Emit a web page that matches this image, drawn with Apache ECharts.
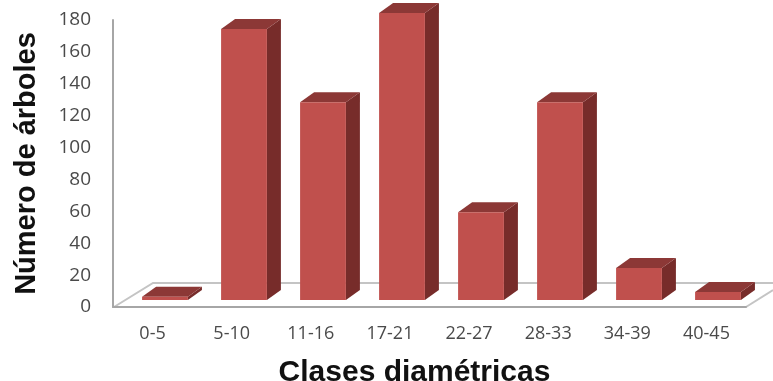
<!DOCTYPE html>
<html>
<head>
<meta charset="utf-8">
<style>
  html, body { margin: 0; padding: 0; background: #fff; }
  #chart { width: 773px; height: 381px; }
</style>
<script src="https://cdn.jsdelivr.net/npm/echarts@6/dist/echarts.min.js"></script>
</head>
<body>
<div id="chart"></div>
<script>
const clases = ['0-5', '5-10', '11-16', '17-21', '22-27', '28-33', '34-39', '40-45'];
const arboles = [2, 170, 124, 180, 55, 124, 20, 5];
const yTicks = [0, 20, 40, 60, 80, 100, 120, 140, 160, 180];

const depthX = 14;
const depthY = 10;

// one bar: front face, top and right side
const renderBar = (params, api) => {
  const top = api.coord([api.value(0), api.value(1)]);
  const base = api.coord([api.value(0), 0]);
  const w = api.size([1, 0])[0] * 0.58;
  const x0 = top[0] - w / 2;
  const x1 = top[0] + w / 2;
  return {
    type: 'group',
    children: [
      {
        type: 'polygon',
        shape: { points: [[x1, top[1]], [x1 + depthX, top[1] - depthY], [x1 + depthX, base[1] - depthY], [x1, base[1]]] },
        style: { fill: '#772C2A' },
      },
      {
        type: 'polygon',
        shape: { points: [[x0, top[1]], [x0 + depthX, top[1] - depthY], [x1 + depthX, top[1] - depthY], [x1, top[1]]] },
        style: { fill: '#8C3836' },
      },
      {
        type: 'rect',
        shape: { x: x0, y: top[1], width: w, height: base[1] - top[1] },
        style: { fill: '#C0504D' },
      },
    ],
  };
};

const chart = echarts.init(document.getElementById('chart'));
chart.setOption({
  animation: false,
  backgroundColor: '#fff',
  // floor of the 3D plot, behind the bars
  graphic: [
    {
      type: 'polyline',
      z: 0,
      shape: { points: [[114, 307], [153, 283], [773, 283]] },
      style: { fill: null, stroke: '#C4C4C4', lineWidth: 2 },
    },
    {
      type: 'line',
      z: 0,
      shape: { x1: 746, y1: 307, x2: 773, y2: 290 },
      style: { stroke: '#C4C4C4', lineWidth: 2 },
    },
  ],
  grid: [
    { left: 113, top: 20, width: 633, height: 287, outerBoundsMode: 'none' }, // axes
    { left: 125.5, top: 13, width: 632, height: 287, outerBoundsMode: 'none' }, // bars sit in front of the axes
  ],
  xAxis: [
    {
      type: 'category',
      gridIndex: 0,
      data: clases,
      axisTick: { show: false },
      axisLine: { lineStyle: { color: '#A6A6A6', width: 2 } },
      axisLabel: { color: '#4a4a4a', fontFamily: 'Open Sans', fontSize: 18, margin: 18 },
      name: 'Clases diamétricas',
      nameLocation: 'middle',
      nameGap: 51,
      nameTextStyle: { color: '#111', fontFamily: 'Liberation Sans', fontWeight: 'bold', fontSize: 30, padding: [0, 30, 0, 0] },
    },
    { type: 'category', gridIndex: 1, data: clases, show: false },
  ],
  yAxis: [
    {
      type: 'value',
      gridIndex: 0,
      min: 0,
      max: 180,
      interval: yTicks[1] - yTicks[0],
      splitLine: { show: false },
      axisTick: { show: false },
      axisLine: { show: true, lineStyle: { color: '#A6A6A6', width: 2 } },
      axisLabel: { color: '#4a4a4a', fontFamily: 'Open Sans', fontSize: 19, margin: 22 },
      name: 'Número de árboles',
      nameLocation: 'middle',
      nameGap: 72,
      nameRotate: 90,
      nameTextStyle: { color: '#111', fontFamily: 'Liberation Sans', fontWeight: 'bold', fontSize: 29 },
    },
    { type: 'value', gridIndex: 1, min: 0, max: 180, show: false },
  ],
  series: [
    {
      type: 'custom',
      xAxisIndex: 1,
      yAxisIndex: 1,
      clip: false,
      renderItem: renderBar,
      encode: { x: 0, y: 1 },
      data: clases.map((c, i) => [c, arboles[i]]),
    },
  ],
});
</script>
</body>
</html>
